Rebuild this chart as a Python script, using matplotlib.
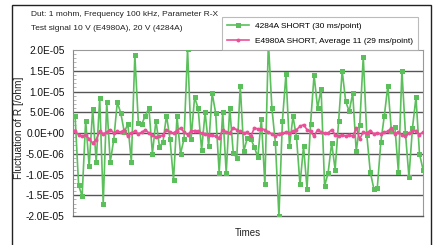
import matplotlib
matplotlib.use("Agg")
import matplotlib.pyplot as plt
from matplotlib.patches import Rectangle
from matplotlib.ticker import FixedLocator, MultipleLocator
import numpy as np

plt.rcParams['font.family'] = ['Liberation Sans Narrow', 'Liberation Sans', 'DejaVu Sans']

title_lines = ["Dut: 1 mohm, Frequency 100 kHz, Parameter R-X",
               "Test signal 10 V (E4980A), 20 V (4284A)"]
series_names = ["4284A SHORT (30 ms/point)",
                "E4980A SHORT, Average 11 (29 ms/point)"]
y_ticks = [2.0e-5, 1.5e-5, 1.0e-5, 5.0e-6, 0.0, -5.0e-6, -1.0e-5, -1.5e-5, -2.0e-5]
y_tick_labels = ["2.0E-05", "1.5E-05", "1.0E-05", "5.0E-06", "0.0E+00",
                 "-5.0E-06", "-1.0E-05", "-1.5E-05", "-2.0E-05"]

# values in units of 1e-6 ohm
short_4284a = [4.0, -12.6, -15.2, 3.0, -8.0, 5.8, -7.0, 8.4, -17.0, 7.4,
               -7.0, -1.6, 7.4, 4.8, 0.2, 2.2, -7.0, 18.8, 2.4, 2.2,
               4.2, 6.0, -5.0, 3.0, -3.3, -2.2, 4.2, -1.4, -11.4, 4.0,
               -5.0, -1.4, 20.2, -1.4, 8.6, 6.0, -4.1, 5.0, -3.2, 9.6,
               4.8, -9.6, 5.0, -9.6, 6.0, -4.8, -6.0, 11.4, -4.4, -1.2,
               -1.4, -3.4, -5.8, 3.4, -12.4, 22.0, 6.0, -2.5, -20.0, 3.0,
               14.2, -3.2, 4.0, -1.0, -12.4, -3.2, -13.4, 2.2, 14.0, 6.0,
               10.6, -12.8, -9.6, -2.4, -8.8, 3.0, 15.0, 7.6, 5.2, 9.6,
               -4.4, 2.0, 18.4, -0.4, -9.4, -13.4, -13.2, -2.2, 4.2, 11.4,
               0.5, 1.5, -9.4, 15.0, 0.0, -10.6, 1.2, 8.6, -5.0, -8.8]
short_e4980a = [0.4, -0.4, -0.8, -0.4, -1.4, -2.4, -1.6, 0.4, -0.2, 0.2,
                0.8, 0.0, 0.4, 0.2, 0.8, -0.8, 0.0, 0.4, -0.2, 0.2,
                0.8, 0.0, -0.4, -1.0, -0.8, -0.6, 0.8, 0.2, 0.0, 0.6,
                1.2, 0.2, -0.4, 0.4, 0.6, 0.4, 0.0, -0.2, -0.4, -0.6,
                -0.8, -1.2, 0.8, 0.2, 0.0, 1.2, 0.8, 0.4, 0.0, 0.2,
                -0.8, 1.2, 1.0, 1.0, 0.8, 0.2, -0.2, -0.8, -0.2, 0.0,
                0.2, 0.0, 0.4, 0.8, 1.6, 2.0, 0.8, 0.4, -0.8, 0.8,
                0.2, 0.0, 0.0, 0.8, -0.4, -0.8, -0.4, -0.8, -0.4, -0.8,
                1.2, -1.4, 0.2, 0.0, 0.6, -0.2, 0.0, -0.2, 0.2, 0.4,
                1.2, -0.2, 0.2, -0.4, -0.8, 0.0, 0.4, 0.6, -0.4, 0.2]

scale = 1e-6
x_green = np.arange(len(short_4284a))
x_pink = np.arange(len(short_e4980a))

fig = plt.figure(figsize=(4.35, 2.45), dpi=100)
fig.patch.set_facecolor('white')

# outer frame
fig.add_artist(Rectangle((12/435, -0.05), (431-12)/435, 1 - 5/245 + 0.05,
                         transform=fig.transFigure, fill=False,
                         edgecolor='#222222', linewidth=1.0))

ax = fig.add_axes([73/435, 1 - 216/245, (423-73)/435, (216-50)/245])
ax.set_ylim(-2.0e-5, 2.0e-5)
ax.set_xlim(-0.6, len(short_4284a) - 1)

ax.yaxis.set_major_locator(FixedLocator(y_ticks))
ax.set_yticklabels(y_tick_labels)
ax.yaxis.set_minor_locator(MultipleLocator(1e-6))
ax.tick_params(axis='y', which='major', length=0, labelsize=7.3, colors='#111111', pad=6)
ax.tick_params(axis='y', which='minor', length=2, direction='in', color='#aaaaaa', width=0.6)
ax.set_xticks([])
for yv in y_ticks[1:-1]:
    ax.axhline(yv, color='#555555', linewidth=1.0, zorder=1)

for side in ['top', 'right']:
    ax.spines[side].set_color('#999999')
    ax.spines[side].set_linewidth(0.8)
ax.spines['left'].set_color('#888888')
ax.spines['left'].set_linewidth(0.8)
ax.spines['bottom'].set_color('#555555')
ax.spines['bottom'].set_linewidth(1.0)

green = '#5bbf5b'
pink = '#ea4f98'
ax.plot(x_green, np.array(short_4284a) * scale, color=green, linewidth=1.2,
        marker='s', markersize=3.6, markeredgewidth=0, label=series_names[0], zorder=3)
ax.plot(x_pink, np.array(short_e4980a) * scale, color=pink, linewidth=1.2,
        marker='o', markersize=2.8, markeredgewidth=0, label=series_names[1], zorder=4)

leg = ax.legend(loc='upper left', bbox_to_anchor=((222-73)/350, (216-17)/166),
                fontsize=6.0, frameon=True, fancybox=False, borderpad=0.6,
                handlelength=2.6, handletextpad=0.8, labelspacing=0.9,
                borderaxespad=0)
leg.get_frame().set_edgecolor('#aaaaaa')
leg.get_frame().set_linewidth(0.8)
leg.set_zorder(10)

fig.text(31/435, 1 - 15/245, title_lines[0], fontsize=6.0, va='center', ha='left', color='#222222')
fig.text(31/435, 1 - 29/245, title_lines[1], fontsize=6.0, va='center', ha='left', color='#222222')

fig.text(19/435, 1 - 128/245, "Fluctuation of R [/ohm]", fontsize=7.3, rotation=90,
         va='center', ha='center', color='#222222')
fig.text(248/435, 1 - 233/245, "Times", fontsize=7, va='center', ha='center', color='#222222')

fig.savefig("out.png", dpi=100, facecolor='white')
